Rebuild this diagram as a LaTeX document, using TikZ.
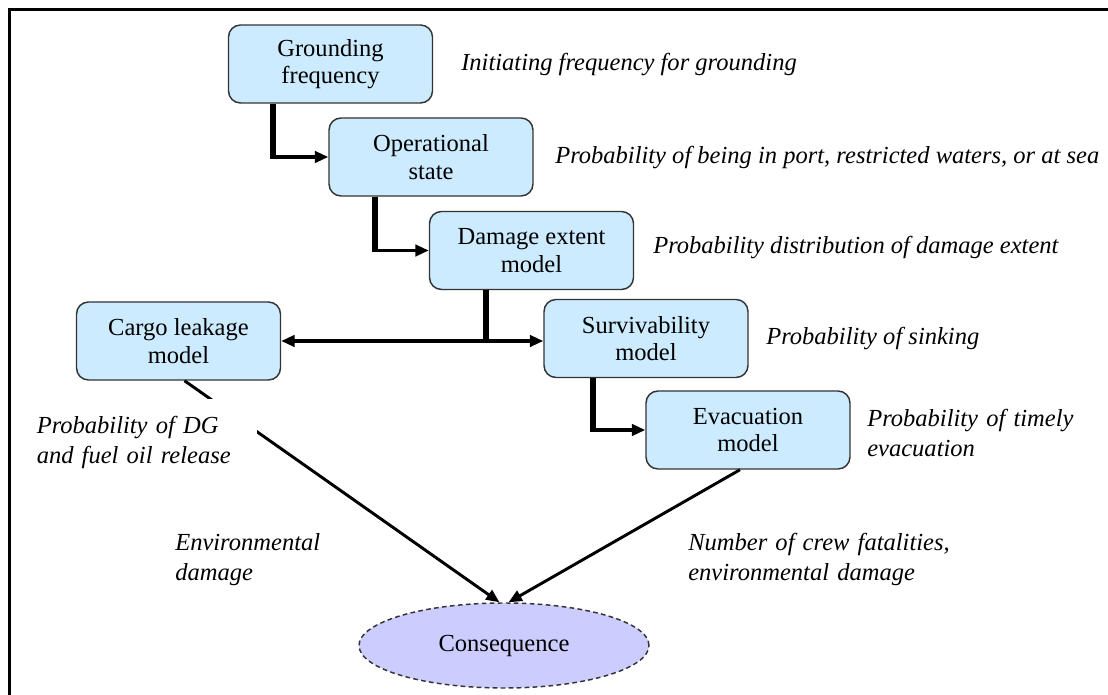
\documentclass[tikz,border=0pt]{standalone}
\usepackage{fontspec}
\setmainfont{Liberation Serif}
\usetikzlibrary{arrows.meta,shapes.geometric,calc}

\definecolor{boxfill}{HTML}{CCEBFF}
\definecolor{boxline}{HTML}{333333}
\definecolor{consfill}{HTML}{CCCCFF}

\newcommand{\flowboxfont}{\fontsize{18.4pt}{20.6pt}\selectfont}
\newcommand{\flownotefont}{\fontsize{18.4pt}{22.5pt}\selectfont\itshape}

\tikzset{
  modelbox/.style={draw=boxline, fill=boxfill, rounded corners=9pt,
    line width=1.1pt, minimum width=153pt, minimum height=58.5pt,
    align=center, font=\flowboxfont, inner sep=0pt},
  outcome/.style={ellipse, draw=boxline, fill=consfill, dashed,
    dash pattern=on 3.5pt off 2.5pt, line width=1.1pt,
    minimum width=217.5pt, minimum height=63.75pt, inner sep=0pt,
    font=\flowboxfont},
  note/.style={font=\flownotefont, inner sep=0pt, anchor=base west},
  notepar/.style={note, align=left, text width=#1},
  flow/.style={line width=2.4pt, -{Triangle[length=10pt,width=8.5pt]}},
  twoway/.style={line width=2.4pt, {Triangle[length=10pt,width=8.5pt]}-{Triangle[length=10pt,width=8.5pt]}},
  stem/.style={line width=4pt},
  frameline/.style={line width=2.25pt}
}

\begin{document}
\begin{tikzpicture}[x=0.75pt,y=-0.75pt]
\useasboundingbox (0,0) rectangle (1108,695);

% page frame: only its left and top sides fall inside the picture
\coordinate (fbl) at (9,700);
\coordinate (ftl) at (9,10);
\coordinate (ftr) at (1112,10);
\draw[frameline] (fbl) -- (ftl) -- (ftr);

% model chain
\node[modelbox] (grd)   at (330.5,64)   {Grounding\\frequency};
\node[modelbox] (ops)   at (431,157)    {Operational\\state};
\node[modelbox] (dmg)   at (531.5,250.5){Damage extent\\model};
\node[modelbox] (cargo) at (178.5,341)  {Cargo leakage\\model};
\node[modelbox] (surv)  at (646,338.5)  {Survivability\\model};
\node[modelbox] (evac)  at (748,430)    {Evacuation\\model};
\node[outcome]  (cons)  at (504,645.5)  {Consequence};

% x positions of the elbow stems
\coordinate (c1) at (273,0);
\coordinate (c2) at (375,0);
\coordinate (c3) at (486,0);
\coordinate (c4) at (593,0);

% elbow connectors
\draw[flow] (c1 |- grd.south) |- (ops.west);
\draw[stem, shorten >=-1.2pt] (c1 |- grd.south) -- (c1 |- ops.west);

\draw[flow] (c2 |- ops.south) |- (dmg.west);
\draw[stem, shorten >=-1.2pt] (c2 |- ops.south) -- (c2 |- dmg.west);

\draw[twoway] (cargo.east) -- (surv.west |- cargo.east);
\draw[stem, shorten >=-1.2pt] (c3 |- dmg.south) -- (c3 |- cargo.east);

\draw[flow] (c4 |- surv.south) |- (evac.west);
\draw[stem, shorten >=-1.2pt] (c4 |- surv.south) -- (c4 |- evac.west);

% links into the consequence
\draw[flow, line width=2.2pt] ($(cargo.south)+(6,0)$) -- (cons.96);
\draw[flow, line width=2.2pt] ($(evac.south)+(-8,0)$) -- (cons.84);

% annotations
\node[note] (nG) at (461,71)  {Initiating frequency for grounding};
\node[note] (nO) at (555,164) {Probability of being in port, restricted waters, or at sea};
\node[note] (nD) at (653,254) {Probability distribution of damage extent};
\node[note] (nS) at (766,345) {Probability of sinking};
\node[notepar=170pt] (nE) at (867,427) {Probability of timely\\evacuation};
\node[notepar=163.5pt, fill=white, inner xsep=1.5pt, inner ysep=13pt]
  (nC) at (34.5,434) {Probability of DG\\and fuel oil release};
\node[notepar=150pt] (nEnv) at (175,551) {Environmental\\damage};
\node[notepar=220pt] (nCrew) at (688,551) {Number of crew fatalities,\\environmental damage};
\end{tikzpicture}
\end{document}
